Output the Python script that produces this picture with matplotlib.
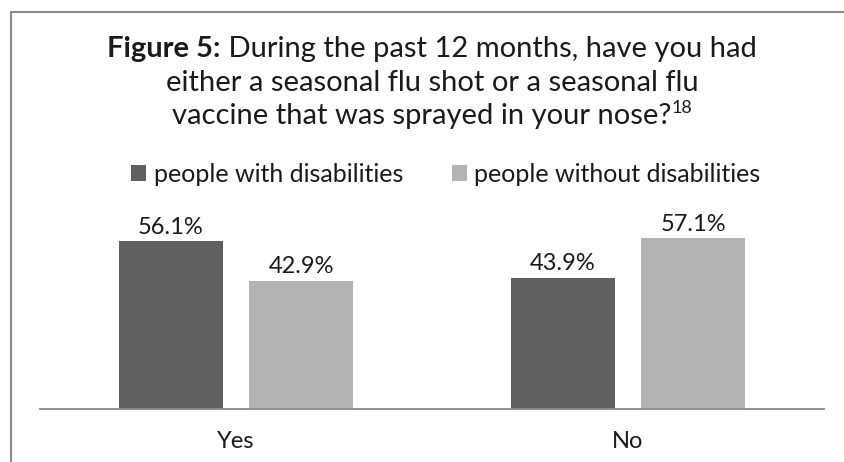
import matplotlib
matplotlib.use("Agg")
import matplotlib.pyplot as plt
import numpy as np
from matplotlib.patches import Rectangle

plt.rcParams['font.family'] = ['Lato', 'DejaVu Sans']

categorias = ["Yes", "No"]
series = ["people with disabilities", "people without disabilities"]
con_discapacidad = [56.1, 43.9]
sin_discapacidad = [42.9, 57.1]
colores = ["#606060", "#b3b3b3"]

W, H = 844, 462
fig = plt.figure(figsize=(W / 100, H / 100), dpi=100)

# marco gris como en el original (abierto a la derecha y abajo)
fig.patches.append(Rectangle((11 / W, -0.1), 1.2, 1 - 11.5 / H + 0.1, transform=fig.transFigure,
                             fill=False, edgecolor="#8c8c8c", linewidth=1.5))

ax = fig.add_axes([40 / W, 1 - 409 / H, 784 / W, 191 / H])
x = np.arange(len(categorias))
ancho = 0.265
desp = 0.166
b1 = ax.bar(x - desp, con_discapacidad, ancho, color=colores[0], label=series[0])
b2 = ax.bar(x + desp, sin_discapacidad, ancho, color=colores[1], label=series[1])

for barras in (b1, b2):
    for b in barras:
        ax.annotate(f"{b.get_height():.1f}%", (b.get_x() + b.get_width() / 2, b.get_height()),
                    xytext=(0, 5.5), textcoords="offset points", ha="center", va="baseline",
                    fontsize=17, color="#1a1a1a")

ax.set_xlim(-0.5, 1.5)
ax.set_ylim(0, 63.9)
ax.set_yticks([])
ax.set_xticks(x)
ax.set_xticklabels(categorias, fontsize=17, color="#1a1a1a")
ax.tick_params(axis="x", length=0, pad=16)
for lado in ["top", "right", "left"]:
    ax.spines[lado].set_visible(False)
ax.spines["bottom"].set_color("#898989")
ax.spines["bottom"].set_linewidth(1.3)

ax.legend(loc="center", bbox_to_anchor=(446 / W, 1 - 174 / H), bbox_transform=fig.transFigure,
          ncol=2, frameon=False, fontsize=18, handlelength=0.6, handleheight=0.6,
          handletextpad=0.3, columnspacing=1.95, borderpad=0, labelcolor="#1a1a1a")

# titulo con "Figure 5:" en negrita
tam = 21
r = fig.canvas.get_renderer()
y1 = 1 - 57 / H
t_neg = fig.text(0, y1, "Figure 5:", fontsize=tam, fontweight="bold", va="baseline", color="#1a1a1a")
t_res = fig.text(0, y1, " During the past 12 months, have you had", fontsize=tam, va="baseline",
                 color="#1a1a1a")
w1 = t_neg.get_window_extent(r).width
w2 = t_res.get_window_extent(r).width
x0 = (432 - (w1 + w2) / 2) / W
t_neg.set_x(x0)
t_res.set_x(x0 + w1 / W)
fig.text(432 / W, 1 - 91 / H, "either a seasonal flu shot or a seasonal flu", fontsize=tam,
         ha="center", va="baseline", color="#1a1a1a")
t3 = fig.text(0, 1 - 124 / H, "vaccine that was sprayed in your nose?", fontsize=tam, va="baseline",
              color="#1a1a1a")
sup = fig.text(0, 1 - 113 / H, "18", fontsize=13, va="baseline", color="#1a1a1a")
w3 = t3.get_window_extent(r).width
ws = sup.get_window_extent(r).width
x3 = (432 - (w3 + ws) / 2) / W
t3.set_x(x3)
sup.set_x(x3 + w3 / W)

fig.savefig("out.png", dpi=100)
